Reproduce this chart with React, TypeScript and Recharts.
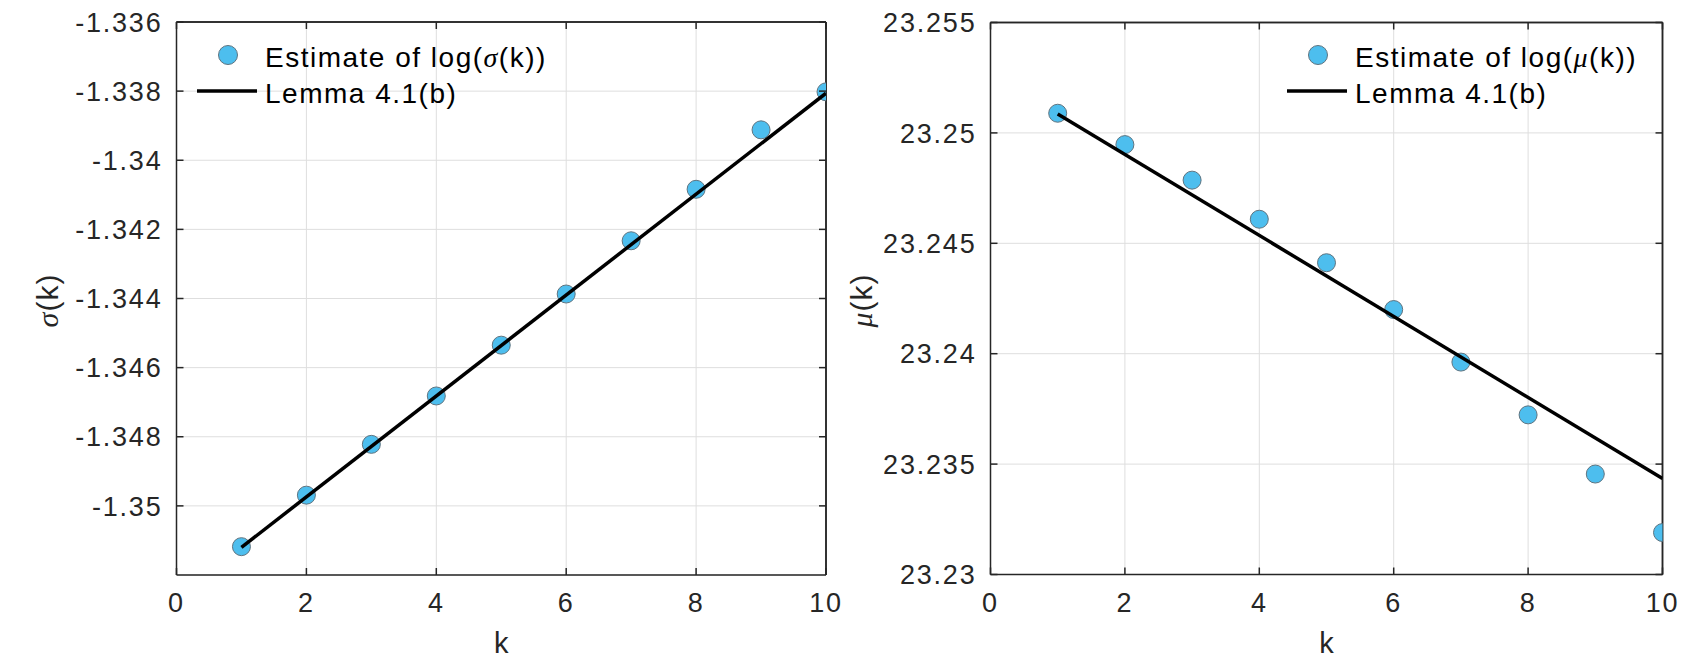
import React from 'react';
import { ScatterChart, Scatter, XAxis, YAxis, CartesianGrid, Legend, ReferenceLine } from 'recharts';

const kValues = [1, 2, 3, 4, 5, 6, 7, 8, 9, 10];
const sigmaEstimates = [-1.35118, -1.34969, -1.34822, -1.34682, -1.34535, -1.34387, -1.34233, -1.34084, -1.33912, -1.33802];
const muEstimates = [23.25089, 23.24947, 23.24786, 23.24609, 23.24412, 23.242, 23.23962, 23.23723, 23.23455, 23.2319];

const lemmaK = [1, 10];
const sigmaLemma = [-1.3512, -1.33806];
const muLemma = [23.25086, 23.23435];

const xTicks = [0, 2, 4, 6, 8, 10];
const sigmaTicks = [-1.35, -1.348, -1.346, -1.344, -1.342, -1.34, -1.338, -1.336];
const muTicks = [23.23, 23.235, 23.24, 23.245, 23.25, 23.255];

const AXIS_COLOR = '#262626';
const MARKER_FILL = '#4DBEEE';
const MARKER_EDGE = '#5f7480';
const SANS = '"Liberation Sans", Arial, Helvetica, sans-serif';
const SERIF = '"Liberation Serif", "Times New Roman", serif';

const tickFont = { fontFamily: SANS, fontSize: 27, letterSpacing: 1.8, fill: AXIS_COLOR };

const toPoints = (xs: number[], ys: number[]) => xs.map((k, i) => ({ k, v: ys[i] }));

// tick renderers: MATLAB style, ticks point into the box
const LeftTick = (props: any) => {
  const { x, y, payload } = props;
  return (
    <g>
      <line x1={x} x2={x + 7} y1={y} y2={y} stroke={AXIS_COLOR} strokeWidth={1.5} />
      <text x={x - 14} y={y} dy="0.36em" textAnchor="end" {...tickFont}>{payload.value}</text>
    </g>
  );
};

const RightTick = (props: any) => {
  const { x, y } = props;
  return <line x1={x - 7} x2={x} y1={y} y2={y} stroke={AXIS_COLOR} strokeWidth={1.5} />;
};

const BottomTick = (props: any) => {
  const { x, y, payload } = props;
  return (
    <g>
      <line x1={x} x2={x} y1={y} y2={y - 7} stroke={AXIS_COLOR} strokeWidth={1.5} />
      <text x={x} y={y + 18} dy="0.71em" textAnchor="middle" {...tickFont}>{payload.value}</text>
    </g>
  );
};

const TopTick = (props: any) => {
  const { x, y } = props;
  return <line x1={x} x2={x} y1={y} y2={y + 7} stroke={AXIS_COLOR} strokeWidth={1.5} />;
};

const Marker = (props: any) => (
  <circle cx={props.cx} cy={props.cy} r={9} fill={MARKER_FILL} stroke={MARKER_EDGE} strokeWidth={1} />
);

const NoShape = () => <g />;

const XLabel = ({ viewBox }: any) => (
  <text x={viewBox.x + viewBox.width / 2} y={viewBox.y + 78} textAnchor="middle"
    fontFamily={SANS} fontSize={29} fill={AXIS_COLOR}>k</text>
);

const makeYLabel = (greek: string) => ({ viewBox }: any) => {
  const cx = viewBox.x + viewBox.width - 129;
  const cy = viewBox.y + viewBox.height / 2 + 2;
  return (
    <text x={cx} y={cy} dy="0.36em" textAnchor="middle" transform={`rotate(-90 ${cx} ${cy})`}
      fontFamily={SANS} fontSize={30} letterSpacing={1} fill={AXIS_COLOR}>
      <tspan fontFamily={SERIF} fontStyle="italic">{greek}</tspan>(k)
    </text>
  );
};

const LegendBox = ({ greek }: { greek: string }) => (
  <svg width={420} height={90} style={{ display: 'block' }}>
    <circle cx={38} cy={25} r={9.5} fill={MARKER_FILL} stroke={MARKER_EDGE} strokeWidth={1} />
    <text x={75} y={36.5} fontFamily={SANS} fontSize={28} letterSpacing={1.5} fill="#000">
      Estimate of log(<tspan fontFamily={SERIF} fontStyle="italic">{greek}</tspan>(k))
    </text>
    <line x1={7} x2={67} y1={61} y2={61} stroke="#000" strokeWidth={3.5} />
    <text x={75} y={72.5} fontFamily={SANS} fontSize={28} letterSpacing={1.5} fill="#000">Lemma 4.1(b)</text>
  </svg>
);

interface PanelProps {
  estimates: number[];
  lemma: number[];
  yTicks: number[];
  yDomain: [number, number];
  greek: string;
  yAxisWidth: number;
  margin: { top: number; right: number; bottom: number; left: number };
  xAxisHeight: number;
  legendLeft: number;
}

const Panel: React.FC<PanelProps> = ({ estimates, lemma, yTicks, yDomain, greek, yAxisWidth, margin, xAxisHeight, legendLeft }) => (
  <ScatterChart width={844} height={660} margin={margin}>
    <CartesianGrid stroke="#dedede" strokeWidth={1} />
    <XAxis type="number" dataKey="k" domain={[0, 10]} ticks={xTicks} interval={0} allowDataOverflow
      height={xAxisHeight} tickSize={0} tickMargin={0} tick={<BottomTick />}
      axisLine={{ stroke: AXIS_COLOR, strokeWidth: 1.5 }} label={{ content: XLabel }} />
    <XAxis xAxisId="top" orientation="top" type="number" dataKey="k" domain={[0, 10]} ticks={xTicks} interval={0}
      allowDataOverflow height={1} tickSize={0} tickMargin={0} tick={<TopTick />}
      axisLine={{ stroke: AXIS_COLOR, strokeWidth: 1.5 }} />
    <YAxis type="number" dataKey="v" domain={yDomain} ticks={yTicks} interval={0} allowDataOverflow
      width={yAxisWidth} tickSize={0} tickMargin={0} tick={<LeftTick />}
      axisLine={{ stroke: AXIS_COLOR, strokeWidth: 1.5 }} label={{ content: makeYLabel(greek) }} />
    <YAxis yAxisId="right" orientation="right" type="number" dataKey="v" domain={yDomain} ticks={yTicks} interval={0}
      allowDataOverflow width={1} tickSize={0} tickMargin={0} tick={<RightTick />}
      axisLine={{ stroke: AXIS_COLOR, strokeWidth: 1.5 }} />
    {/* box edges, in case the mirrored axes leave a gap */}
    <ReferenceLine y={yDomain[1]} stroke={AXIS_COLOR} strokeWidth={1.5} />
    <ReferenceLine x={10} stroke={AXIS_COLOR} strokeWidth={1.5} />
    <Scatter name="estimate" data={toPoints(kValues, estimates)} shape={<Marker />} isAnimationActive={false} />
    <Scatter name="lemma" data={toPoints(lemmaK, lemma)} shape={<NoShape />}
      line={{ stroke: '#000', strokeWidth: 3.5 }} isAnimationActive={false} />
    {/* invisible copy so the box axes (top/right) get a series and render */}
    <Scatter name="box" xAxisId="top" yAxisId="right" data={toPoints(lemmaK, lemma)} shape={<NoShape />}
      legendType="none" isAnimationActive={false} />
    <Legend layout="horizontal" verticalAlign="middle" align="center"
      wrapperStyle={{ left: legendLeft, top: 30, width: 420, height: 90 }}
      content={() => <LegendBox greek={greek} />} />
  </ScatterChart>
);

export default function App() {
  return (
    <div style={{ position: 'absolute', left: 0, top: 0, width: 1688, height: 660, background: '#fff' }}>
      <div style={{ position: 'absolute', left: 0, top: 0 }}>
        <Panel estimates={sigmaEstimates} lemma={sigmaLemma} yTicks={sigmaTicks} yDomain={[-1.352, -1.336]}
          greek="σ" yAxisWidth={176.5} margin={{ top: 21, right: 17, bottom: 0, left: 0 }}
          xAxisHeight={85} legendLeft={190} />
      </div>
      <div style={{ position: 'absolute', left: 844, top: 0 }}>
        <Panel estimates={muEstimates} lemma={muLemma} yTicks={muTicks} yDomain={[23.23, 23.255]}
          greek="μ" yAxisWidth={146.5} margin={{ top: 21.5, right: 24.5, bottom: 0, left: 0 }}
          xAxisHeight={85.5} legendLeft={436} />
      </div>
    </div>
  );
}
